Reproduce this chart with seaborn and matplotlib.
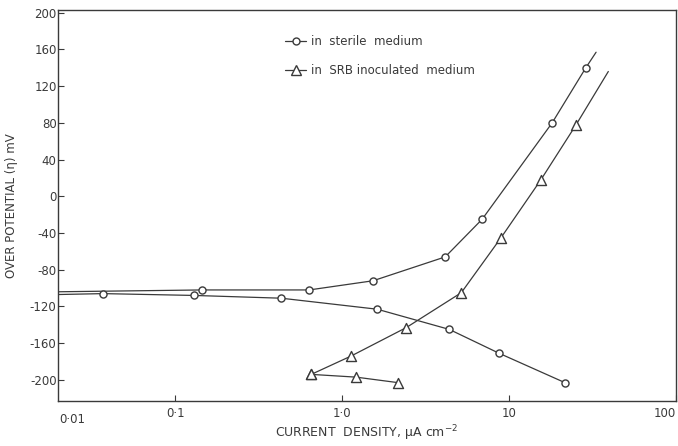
import matplotlib
matplotlib.use("Agg")
import matplotlib.pyplot as plt
from matplotlib.lines import Line2D
import seaborn as sns
import pandas as pd

# ---- data (current density µA/cm², overpotential mV) ----
sterile_an_x = [0.145, 0.634, 1.53, 4.14, 6.89, 18.1, 28.8]
sterile_an_y = [-102, -102, -92, -66, -25, 80, 140]
sterile_cat_x = [0.037, 0.130, 0.431, 1.62, 4.38, 8.71, 21.6]
sterile_cat_y = [-106, -108, -111, -123, -145, -171, -203]
srb_an_x = [0.652, 1.13, 2.42, 5.17, 8.95, 15.5, 25.2]
srb_an_y = [-194, -174, -143, -105, -45, 18, 78]
srb_cat_x = [0.652, 1.21, 2.16]
srb_cat_y = [-194, -197, -203]

# curve extensions drawn without markers (left start / upper tip)
sterile_an_start = (0.0198, -104)
sterile_an_tip = (33.2, 157)
sterile_cat_start = (0.0198, -107)
srb_an_tip = (39.3, 136)

xtick_vals = [0.1, 1, 10, 100]
xtick_labels = ["0·1", "1·0", "10", "100"]
ytick_vals = [-200, -160, -120, -80, -40, 0, 40, 80, 120, 160, 200]
ytick_labels = ["-200", "-160", "-120", "-80", "-40", "0", "40", "80", "120", "160", "200"]

sns.set_style("ticks")
plt.rcParams["font.family"] = ["DejaVu Sans"]
ink = "#3a3a3a"

fig = plt.figure(figsize=(6.78, 4.46), dpi=100)
ax = fig.add_axes([58 / 678, 45 / 446, 618 / 678, 391 / 446])
ax.set_xscale("log")

def curve(xs, ys):
    df = pd.DataFrame({"x": xs, "y": ys})
    sns.lineplot(data=df, x="x", y="y", ax=ax, sort=False, color=ink,
                 linewidth=0.9, estimator=None, legend=False)

curve([sterile_an_start[0]] + sterile_an_x + [sterile_an_tip[0]],
      [sterile_an_start[1]] + sterile_an_y + [sterile_an_tip[1]])
curve([sterile_cat_start[0]] + sterile_cat_x, [sterile_cat_start[1]] + sterile_cat_y)
curve(srb_an_x + [srb_an_tip[0]], srb_an_y + [srb_an_tip[1]])
curve(srb_cat_x, srb_cat_y)

def marks(xs, ys, marker, size):
    df = pd.DataFrame({"x": xs, "y": ys})
    sns.scatterplot(data=df, x="x", y="y", ax=ax, marker=marker, s=size,
                    facecolor="white", edgecolor=ink, linewidth=1.0,
                    zorder=3, legend=False)

marks(sterile_an_x, sterile_an_y, "o", 26)
marks(sterile_cat_x, sterile_cat_y, "o", 26)
marks(srb_an_x, srb_an_y, "^", 52)
marks(srb_cat_x, srb_cat_y, "^", 52)

ax.set_xlim(0.0198, 100)
ax.set_ylim(-223, 203)
ax.set_xticks(xtick_vals)
ax.set_xticklabels(xtick_labels)
ax.get_xticklabels()[-1].set_horizontalalignment("right")
ax.minorticks_off()
ax.set_yticks(ytick_vals)
ax.set_yticklabels(ytick_labels)
ax.tick_params(direction="in", length=4, width=0.8, colors=ink, labelsize=8.5, pad=4)
ax.tick_params(axis="y", pad=1)
ax.text(0.023, -0.031, "0·01", transform=ax.transAxes, ha="center", va="top",
        fontsize=8.5, color=ink)

for sp in ax.spines.values():
    sp.set_color(ink)
    sp.set_linewidth(1.0)

ax.set_xlabel("CURRENT  DENSITY, µA cm$^{-2}$", fontsize=9, color=ink)
ax.xaxis.set_label_coords(0.50, -0.058)
ax.set_ylabel("OVER POTENTIAL (η) mV", fontsize=8.5, color=ink)
ax.yaxis.set_label_coords(-0.064, 0.5)

handles = [
    Line2D([], [], color=ink, lw=0.9, marker="o", markersize=5,
           markerfacecolor="white", markeredgecolor=ink),
    Line2D([], [], color=ink, lw=0.9, marker="^", markersize=7,
           markerfacecolor="white", markeredgecolor=ink),
]
leg = ax.legend(handles, ["in  sterile  medium", "in  SRB inoculated  medium"],
                loc="upper left", bbox_to_anchor=(0.350, 0.962), frameon=False,
                fontsize=8.5, handlelength=1.8, handletextpad=0.4,
                labelspacing=1.3, labelcolor=ink)

fig.savefig("out.png", dpi=100)
